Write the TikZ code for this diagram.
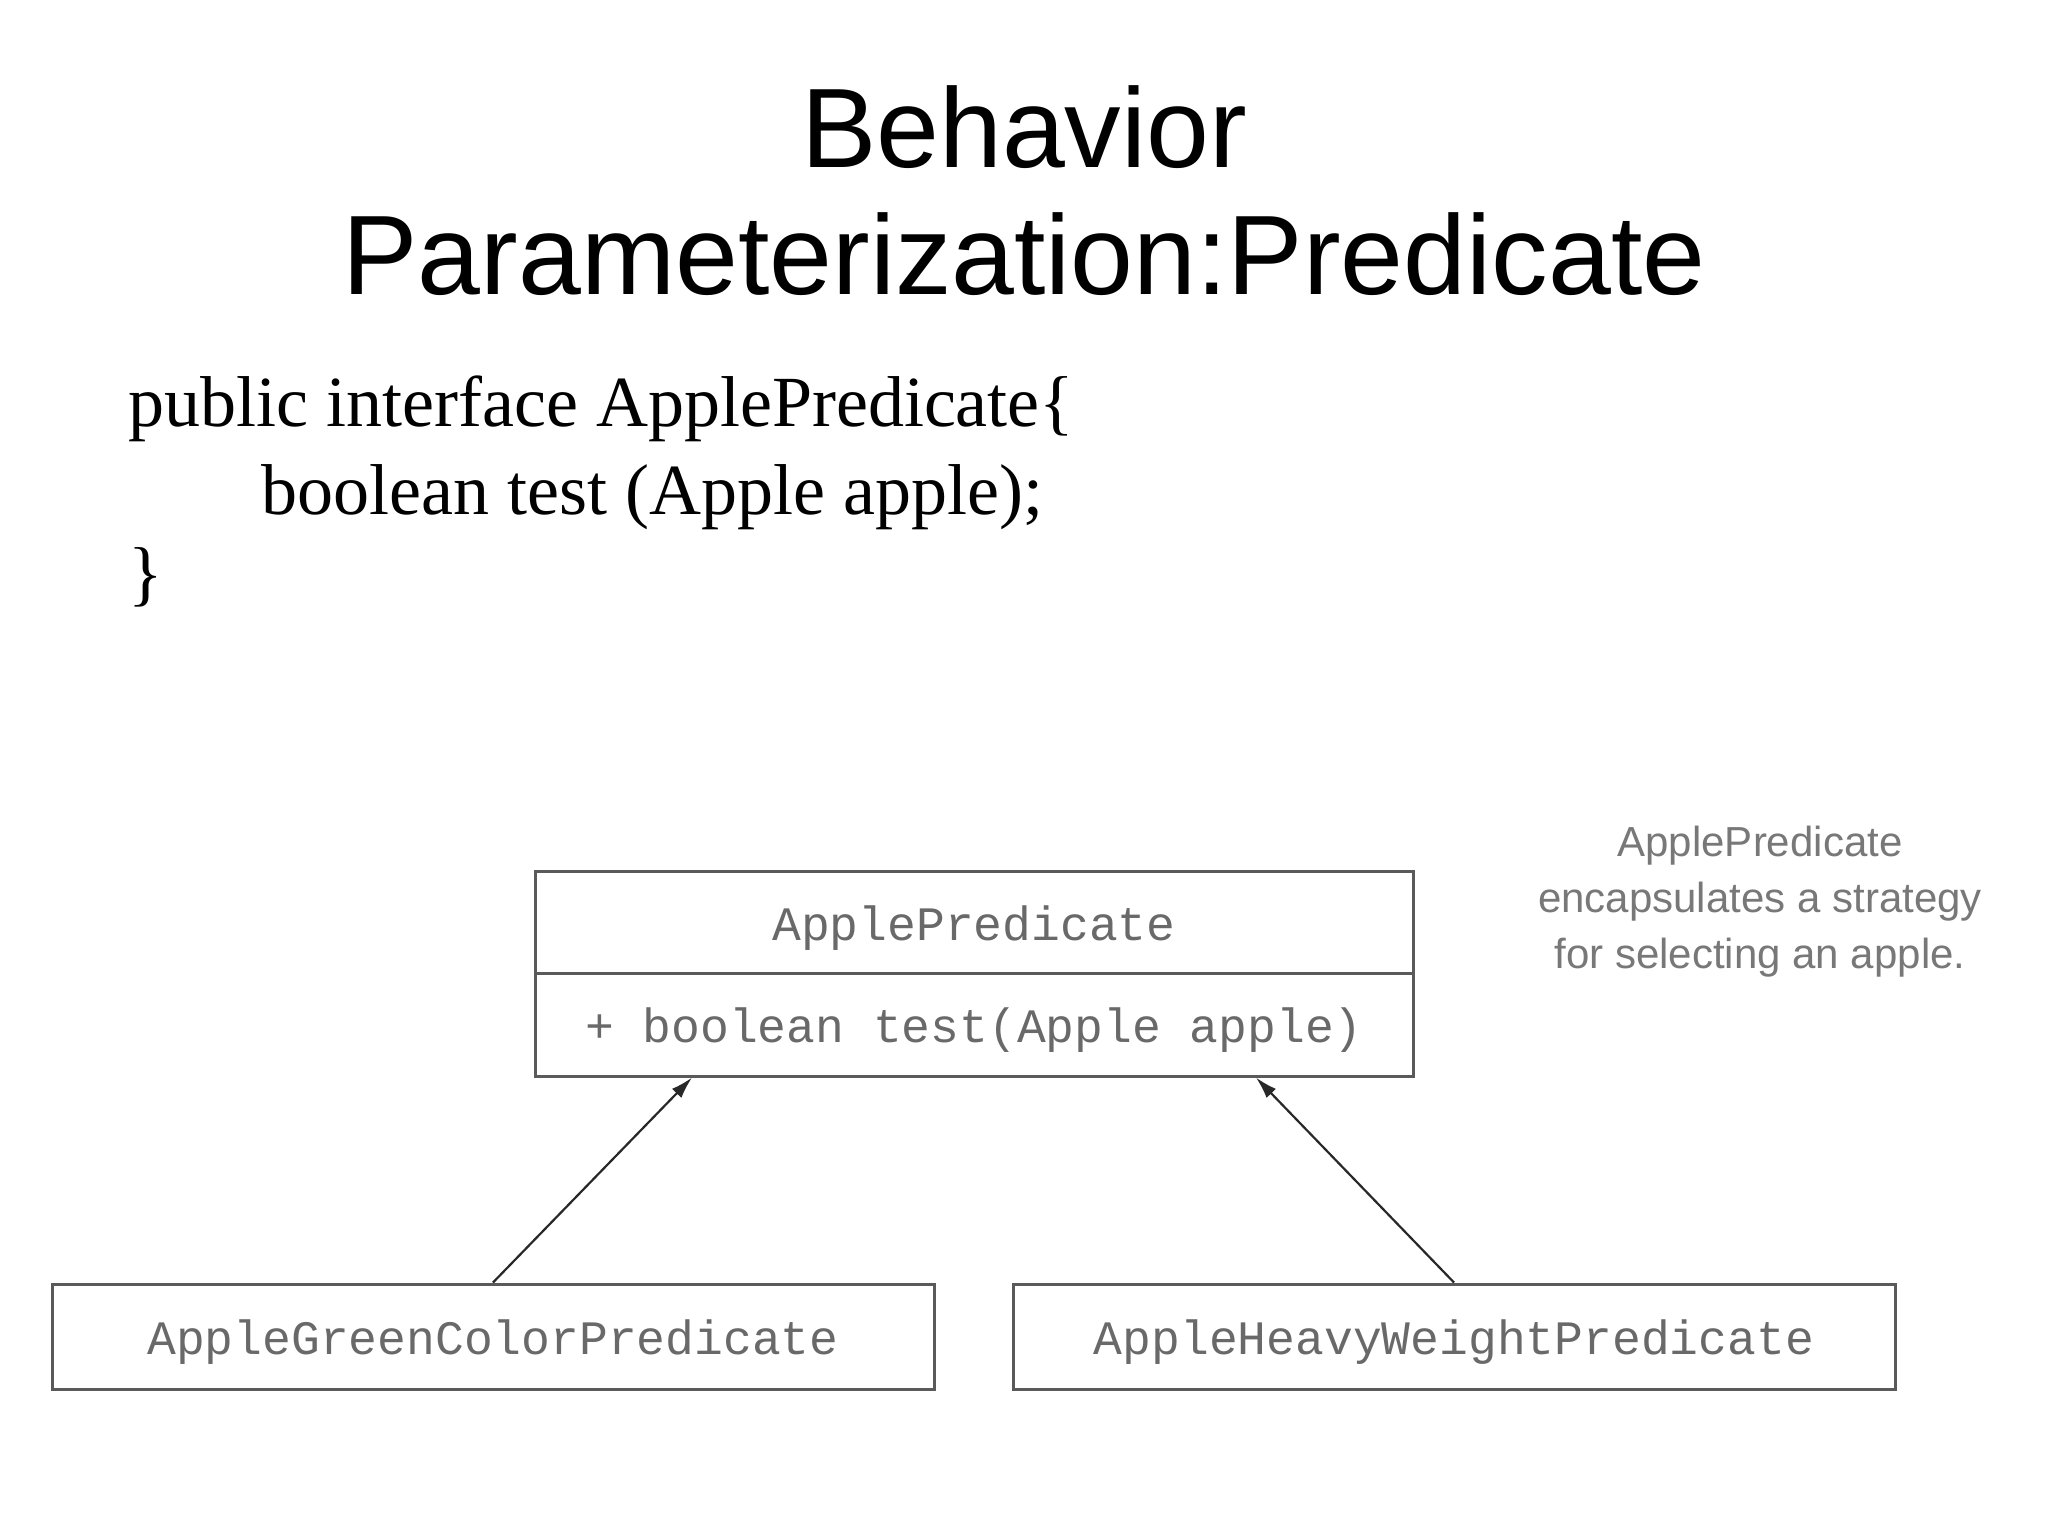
\documentclass[tikz,border=0pt]{standalone}
\usepackage{fontspec}
\setmainfont{Liberation Sans}
\newfontfamily\codeserif{Liberation Serif}
\newfontfamily\umlmono{Liberation Mono}
\usetikzlibrary{arrows.meta,calc}
\definecolor{boxline}{RGB}{90,90,90}
\definecolor{umltext}{RGB}{105,105,105}
\definecolor{notetext}{RGB}{120,120,120}
\definecolor{arrowcol}{RGB}{40,40,40}
\tikzset{
  titletext/.style={font=\fontsize{113}{127}\selectfont, anchor=base, inner sep=0pt},
  codetext/.style={font=\codeserif\fontsize{72}{80}\selectfont, anchor=base west, inner sep=0pt},
  umlbox/.style={draw=boxline, line width=3pt, rectangle, inner sep=0pt,
    text height=36pt, text depth=0pt,
    text=umltext, font=\umlmono\fontsize{48}{52}\selectfont},
  notestyle/.style={font=\fontsize{42}{56}\selectfont, text=notetext, align=center, inner sep=0pt},
  inherit/.style={draw=arrowcol, line width=2.2pt, -{Latex[length=22pt,width=13pt]}}
}
\begin{document}
\begin{tikzpicture}[x=1pt,y=-1pt]
\useasboundingbox[fill=white] (0,0) rectangle (2048,1535);
% title
\node[titletext] (t1) at (1024,167) {Behavior};
\node[titletext] (t2) at (1024,294) {Parameterization:Predicate};
% code
\node[codetext] (c1) at (128,426) {public interface ApplePredicate\{};
\node[codetext] (c2) at (261,514) {boolean test (Apple apple);};
\node[codetext] (c3) at (128,597) {\}};
% UML
\node[umlbox, minimum width=878pt, minimum height=102pt] (apname) at (974,922) {ApplePredicate};
\node[umlbox, minimum width=878pt, minimum height=103pt] (apmeth) at (974,1024.5) {+ boolean test(Apple apple)};
\node[umlbox, minimum width=882pt, minimum height=105pt] (green) at (493,1336.5) {AppleGreenColorPredicate};
\node[umlbox, minimum width=882pt, minimum height=105pt] (heavy) at (1454,1336.5) {AppleHeavyWeightPredicate};
\draw[inherit] (green.north) -- ($(apmeth.south west)!0.18!(apmeth.south east)$);
\draw[inherit] (heavy.north) -- ($(apmeth.south west)!0.82!(apmeth.south east)$);
% note
\node[notestyle] (note) at (1760,902) {ApplePredicate\\encapsulates a strategy\\for selecting an apple.};
\end{tikzpicture}
\end{document}
